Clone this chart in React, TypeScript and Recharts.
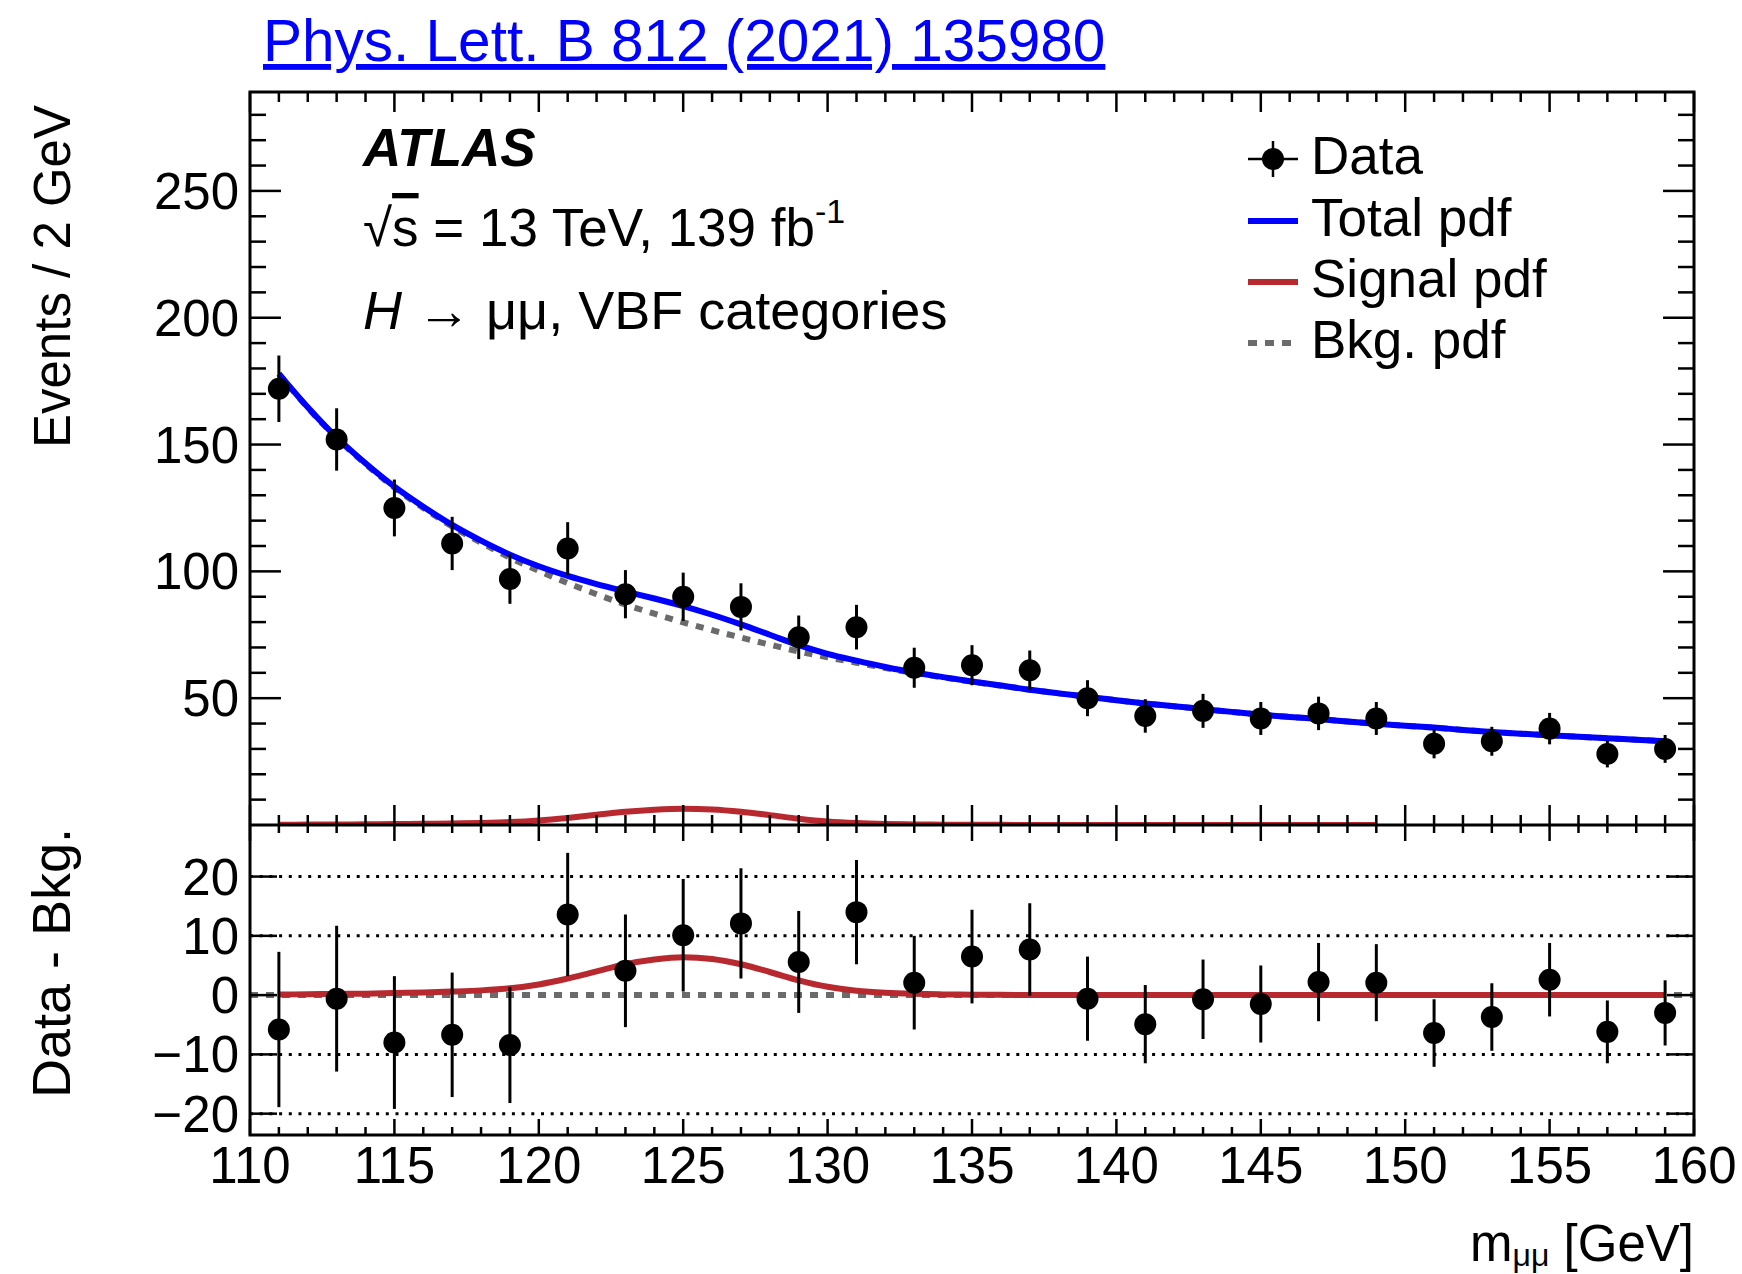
import React from 'react';
import { ComposedChart, Line, Scatter, ErrorBar, XAxis, YAxis, CartesianGrid } from 'recharts';

const W = 1742;
const H = 1274;
const PL = 250;
const PR = 1694;
const PT = 92;
const PM = 825;
const PB = 1135;

const FONT = '"Liberation Sans", Arial, Helvetica, sans-serif';
const BLUE = '#0000ff';
const RED = '#b8282f';
const GREY = '#6b6b6b';

// bin centres of the 2 GeV bins
const binMass = [111, 113, 115, 117, 119, 121, 123, 125, 127, 129, 131, 133, 135, 137, 139, 141, 143, 145, 147, 149, 151, 153, 155, 157, 159];
const dataCounts = [172, 152, 125, 111, 97, 109, 91, 90, 86, 74, 78, 62, 63, 61, 50, 43, 45, 42, 44, 42, 32, 33, 38, 28, 30];
const dataErr = [13.1, 12.3, 11.2, 10.5, 9.8, 10.4, 9.5, 9.5, 9.3, 8.6, 8.8, 7.9, 7.9, 7.8, 7.1, 6.6, 6.7, 6.5, 6.6, 6.5, 5.7, 5.7, 6.2, 5.3, 5.5];
const residuals = [-5.8, -0.6, -8.0, -6.7, -8.4, 13.6, 4.1, 10.1, 12.1, 5.6, 14.0, 2.1, 6.5, 7.7, -0.6, -4.9, -0.7, -1.5, 2.2, 2.1, -6.4, -3.7, 2.6, -6.2, -3.0];

// fit curves, 1 GeV steps
const fitMass = [111, 112, 113, 114, 115, 116, 117, 118, 119, 120, 121, 122, 123, 124, 125, 126, 127, 128, 129, 130, 131, 132, 133, 134, 135, 136, 137, 138, 139, 140, 141, 142, 143, 144, 145, 146, 147, 148, 149, 150, 151, 152, 153, 154, 155, 156, 157, 158, 159];
const bkgPdf = [177.8, 164.5, 152.6, 142.3, 133.0, 125.0, 117.7, 111.3, 105.4, 100.2, 95.4, 91.0, 86.9, 83.3, 79.9, 76.8, 73.9, 71.1, 68.4, 66.1, 64.0, 61.9, 59.9, 58.2, 56.5, 54.9, 53.3, 51.9, 50.6, 49.2, 47.9, 46.8, 45.7, 44.6, 43.5, 42.6, 41.8, 40.8, 39.9, 39.1, 38.4, 37.5, 36.7, 36.0, 35.4, 34.8, 34.2, 33.6, 33.0];
const totalPdf = [177.9, 164.7, 152.8, 142.6, 133.4, 125.5, 118.3, 112.1, 106.6, 102.0, 98.2, 95.0, 92.1, 89.3, 86.3, 82.9, 79.1, 75.0, 70.9, 67.5, 64.8, 62.3, 60.1, 58.3, 56.6, 55.0, 53.3, 51.9, 50.6, 49.2, 47.9, 46.8, 45.7, 44.6, 43.5, 42.6, 41.8, 40.8, 39.9, 39.1, 38.4, 37.5, 36.7, 36.0, 35.4, 34.8, 34.2, 33.6, 33.0];
const signalPdf = [0.1, 0.15, 0.2, 0.25, 0.35, 0.45, 0.6, 0.8, 1.15, 1.8, 2.8, 4.0, 5.2, 6.0, 6.4, 6.1, 5.2, 3.9, 2.5, 1.4, 0.75, 0.4, 0.22, 0.12, 0.08, 0.05, 0.03, 0.02, 0.01, 0, 0, 0, 0, 0, 0, 0, 0, 0, 0, 0, 0, 0, 0, 0, 0, 0, 0, 0, 0];

const massTicks = [110, 111, 112, 113, 114, 115, 116, 117, 118, 119, 120, 121, 122, 123, 124, 125, 126, 127, 128, 129, 130, 131, 132, 133, 134, 135, 136, 137, 138, 139, 140, 141, 142, 143, 144, 145, 146, 147, 148, 149, 150, 151, 152, 153, 154, 155, 156, 157, 158, 159, 160];
const upperYTicks = [10, 20, 30, 40, 50, 60, 70, 80, 90, 100, 110, 120, 130, 140, 150, 160, 170, 180, 190, 200, 210, 220, 230, 240, 250, 260, 270, 280];
const lowerYTicks = [-20, -10, 0, 10, 20];
const gridValues = [-20, -10, 10, 20];

const pointData = binMass.map((m, i) => ({ m, v: dataCounts[i], e: dataErr[i] }));
const residData = binMass.map((m, i) => ({ m, v: residuals[i], e: dataErr[i] }));
const bkgData = fitMass.map((m, i) => ({ m, v: bkgPdf[i] }));
const totalData = fitMass.map((m, i) => ({ m, v: totalPdf[i] }));
const sigLower = fitMass.map((m, i) => ({ m, v: signalPdf[i] }));
const sigUpper = sigLower.filter((d) => d.m <= 149);
const zeroLine = [{ m: 110, v: 0 }, { m: 160, v: 0 }];

const tickStroke = { stroke: '#000', strokeWidth: 2.5 };

const upperXTick = (p: any) => {
    const major = p.payload.value % 5 === 0;
    const L = major ? 20 : 10;
    return (
        <g>
            <line x1={p.x} x2={p.x} y1={PM} y2={PM - L} {...tickStroke} />
            <line x1={p.x} x2={p.x} y1={PT} y2={PT + L} {...tickStroke} />
        </g>
    );
};

const lowerXTick = (p: any) => {
    const v = p.payload.value;
    const major = v % 5 === 0;
    const L = major ? 16 : 8;
    return (
        <g>
            <line x1={p.x} x2={p.x} y1={PB} y2={PB - L} {...tickStroke} />
            <line x1={p.x} x2={p.x} y1={PM} y2={PM + L} {...tickStroke} />
            {major && (
                <text x={p.x} y={PB + 48} textAnchor="middle" fontSize={51} fontFamily={FONT} fill="#000">{v}</text>
            )}
        </g>
    );
};

const upperYTick = (p: any) => {
    const v = p.payload.value;
    const major = v % 50 === 0;
    const L = major ? 31 : 16;
    return (
        <g>
            <line x1={PL} x2={PL + L} y1={p.y} y2={p.y} {...tickStroke} />
            <line x1={PR} x2={PR - L} y1={p.y} y2={p.y} {...tickStroke} />
            {major && (
                <text x={PL - 11} y={p.y + 18} textAnchor="end" fontSize={51} fontFamily={FONT} fill="#000">{v}</text>
            )}
        </g>
    );
};

const lowerYTick = (p: any) => {
    const v = p.payload.value;
    const label = v < 0 ? '\u2212' + Math.abs(v) : String(v);
    return (
        <g>
            <line x1={PL} x2={PL + 27} y1={p.y} y2={p.y} {...tickStroke} />
            <line x1={PR} x2={PR - 27} y1={p.y} y2={p.y} {...tickStroke} />
            <text x={PL - 11} y={p.y + 18} textAnchor="end" fontSize={51} fontFamily={FONT} fill="#000">{label}</text>
        </g>
    );
};

const dot = (p: any) => <circle cx={p.cx} cy={p.cy} r={11} fill="#000" />;

function Overlay() {
    const t = { fontFamily: FONT, fill: '#000' };
    return (
        <svg width={W} height={H} style={{ position: 'absolute', left: 0, top: 0, pointerEvents: 'none' }}>
            <text x={263} y={61} fontSize={58.5} fontFamily={FONT} fill={BLUE} style={{ textDecoration: 'underline' }}>Phys. Lett. B 812 (2021) 135980</text>
            <rect x={PL} y={PT} width={PR - PL} height={PB - PT} fill="none" stroke="#000" strokeWidth={3} />
            <line x1={PL} x2={PR} y1={PM} y2={PM} stroke="#000" strokeWidth={3} />

            <text x={363} y={166} fontSize={53} fontWeight="bold" fontStyle="italic" {...t}>ATLAS</text>
            <text x={363} y={246} fontSize={53} {...t}>
                <tspan>√</tspan><tspan style={{ textDecoration: 'overline' }}>s</tspan><tspan> = 13 TeV, 139 fb</tspan>
                <tspan fontSize={34} dy={-23}>-1</tspan>
            </text>
            <text x={363} y={329} fontSize={54} {...t}>
                <tspan fontStyle="italic">H</tspan><tspan> → μμ, VBF categories</tspan>
            </text>

            <line x1={1248} x2={1298} y1={159} y2={159} stroke="#000" strokeWidth={2.5} />
            <line x1={1273} x2={1273} y1={141} y2={177} stroke="#000" strokeWidth={2.5} />
            <circle cx={1273} cy={159} r={11} fill="#000" />
            <text x={1311} y={174} fontSize={53} {...t}>Data</text>
            <line x1={1248} x2={1298} y1={221} y2={221} stroke={BLUE} strokeWidth={6} />
            <text x={1311} y={236} fontSize={53} {...t}>Total pdf</text>
            <line x1={1248} x2={1298} y1={282} y2={282} stroke={RED} strokeWidth={6} />
            <text x={1311} y={297} fontSize={53} {...t}>Signal pdf</text>
            <line x1={1248} x2={1298} y1={343} y2={343} stroke={GREY} strokeWidth={6} strokeDasharray="9 8" />
            <text x={1311} y={358} fontSize={53} {...t}>Bkg. pdf</text>

            <text transform="translate(70,105) rotate(-90)" textAnchor="end" fontSize={51} {...t}>Events / 2 GeV</text>
            <text transform="translate(70,828) rotate(-90)" textAnchor="end" fontSize={54} {...t}>Data - Bkg.</text>
            <text x={PR} y={1261} textAnchor="end" fontSize={51} {...t}>
                <tspan>m</tspan><tspan fontSize={32} dy={5}>μμ</tspan><tspan dy={-5}> [GeV]</tspan>
            </text>
        </svg>
    );
}

export default function App() {
    return (
        <div style={{ position: 'absolute', left: 0, top: 0, width: W, height: H, background: '#fff' }}>
            <div style={{ position: 'absolute', left: 0, top: 0 }}>
                <ComposedChart width={W} height={PM + 30} margin={{ top: PT, right: W - PR, bottom: 29, left: PL - 1 }}>
                    <XAxis type="number" dataKey="m" domain={[110, 160]} ticks={massTicks} interval={0} height={1}
                        axisLine={false} tickLine={false} tickSize={0} tickMargin={0} tick={upperXTick} allowDataOverflow />
                    <YAxis type="number" domain={[0, 289]} ticks={upperYTicks} interval={0} width={1}
                        axisLine={false} tickLine={false} tickSize={0} tickMargin={0} tick={upperYTick} allowDataOverflow />
                    <Line data={sigUpper} dataKey="v" type="monotone" stroke={RED} strokeWidth={6} dot={false} isAnimationActive={false} />
                    <Line data={bkgData} dataKey="v" type="monotone" stroke={GREY} strokeWidth={6} strokeDasharray="8 8" dot={false} isAnimationActive={false} />
                    <Line data={totalData} dataKey="v" type="monotone" stroke={BLUE} strokeWidth={6} dot={false} isAnimationActive={false} />
                    <Scatter data={pointData} dataKey="v" shape={dot} isAnimationActive={false}>
                        <ErrorBar dataKey="e" direction="y" width={0} stroke="#000" strokeWidth={3} isAnimationActive={false} />
                    </Scatter>
                </ComposedChart>
            </div>
            <div style={{ position: 'absolute', left: 0, top: 0 }}>
                <ComposedChart width={W} height={H} margin={{ top: PM, right: W - PR, bottom: H - PB - 1, left: PL - 1 }}>
                    <CartesianGrid horizontal vertical={false} horizontalValues={gridValues} stroke="#000" strokeWidth={3} strokeDasharray="3 6.7" />
                    <XAxis type="number" dataKey="m" domain={[110, 160]} ticks={massTicks} interval={0} height={1}
                        axisLine={false} tickLine={false} tickSize={0} tickMargin={0} tick={lowerXTick} allowDataOverflow />
                    <YAxis type="number" domain={[-23.6, 28.7]} ticks={lowerYTicks} interval={0} width={1}
                        axisLine={false} tickLine={false} tickSize={0} tickMargin={0} tick={lowerYTick} allowDataOverflow />
                    <Line data={zeroLine} dataKey="v" type="linear" stroke={GREY} strokeWidth={6} strokeDasharray="8 8" dot={false} isAnimationActive={false} />
                    <Line data={sigLower} dataKey="v" type="monotone" stroke={RED} strokeWidth={6} dot={false} isAnimationActive={false} />
                    <Scatter data={residData} dataKey="v" shape={dot} isAnimationActive={false}>
                        <ErrorBar dataKey="e" direction="y" width={0} stroke="#000" strokeWidth={3} isAnimationActive={false} />
                    </Scatter>
                </ComposedChart>
            </div>
            <Overlay />
        </div>
    );
}
